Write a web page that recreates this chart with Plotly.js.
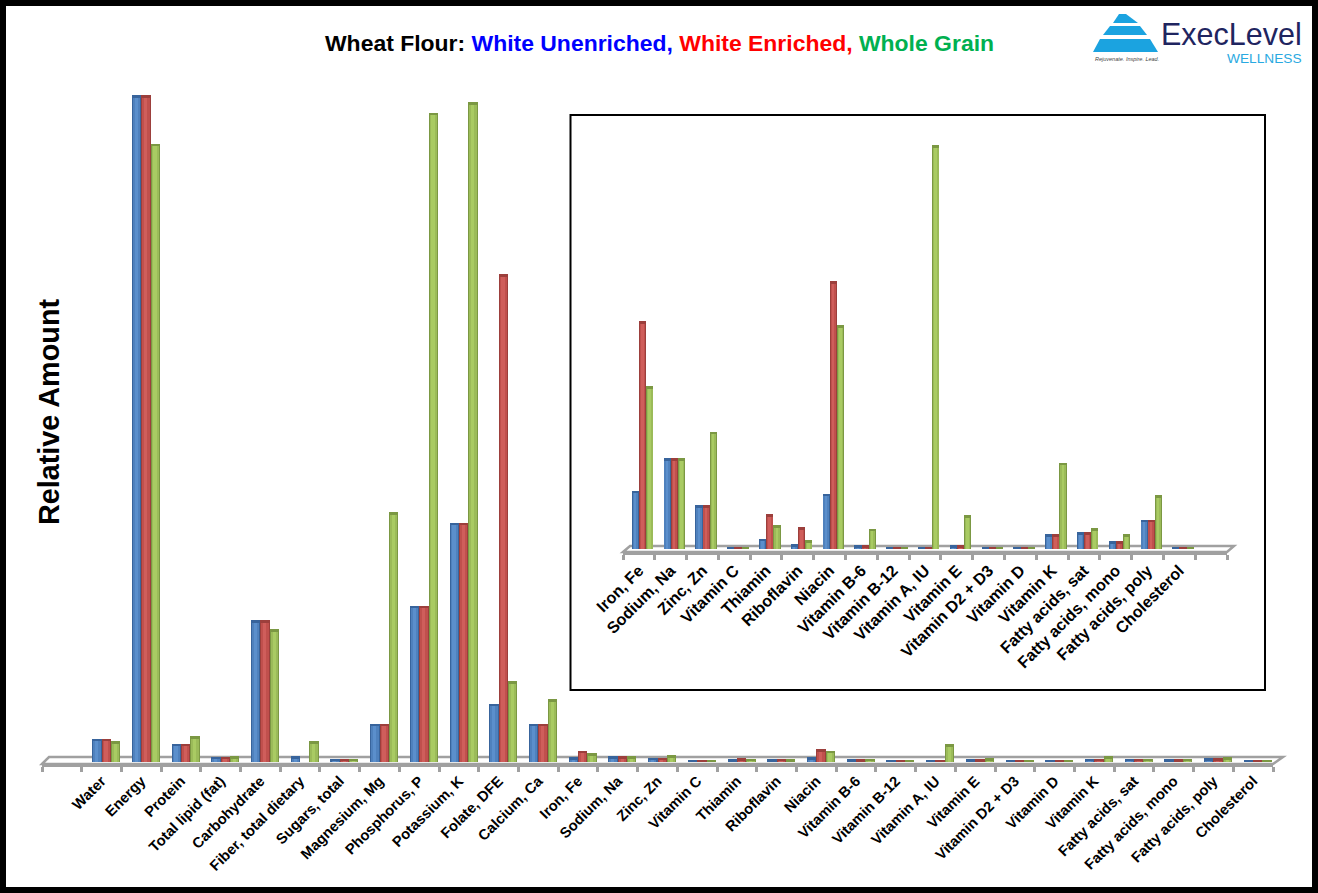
<!DOCTYPE html>
<html>
<head>
<meta charset="utf-8">
<script src="https://cdn.plot.ly/plotly-3.0.1.min.js"></script>
<style>html,body{margin:0;padding:0;background:#fff;overflow:hidden}</style>
</head>
<body>
<div id="chart" style="width:1318px;height:893px"></div>
<script>
// Relative amounts
const categories = ["Water","Energy","Protein","Total lipid (fat)","Carbohydrate","Fiber, total dietary","Sugars, total","Magnesium, Mg","Phosphorus, P","Potassium, K","Folate, DFE","Calcium, Ca","Iron, Fe","Sodium, Na","Zinc, Zn","Vitamin C","Thiamin","Riboflavin","Niacin","Vitamin B-6","Vitamin B-12","Vitamin A, IU","Vitamin E","Vitamin D2 + D3","Vitamin D","Vitamin K","Fatty acids, sat","Fatty acids, mono","Fatty acids, poly","Cholesterol"];
const whiteUnenriched = [11.2,362.7,8.5,1.4,76.1,1.9,0.3,19.4,83.8,129.1,30.3,19.4,1.2,1.89,0.9,0,0.19,0.08,1.14,0.06,0,0,0.06,0,0,0.29,0.33,0.14,0.59,0];
const whiteEnriched   = [11.2,362.7,8.5,1.4,76.1,null,0.3,19.4,83.8,129.1,265,19.4,4.76,1.89,0.9,0,0.71,0.44,5.6,0.06,0,0,0.06,0,0,0.29,0.33,0.14,0.59,0];
const wholeGrain      = [10.1,336,12.8,1.9,71.2,10.1,0.3,135.1,352.9,358.9,42.8,33,3.4,1.89,2.44,0,0.48,0.16,4.68,0.4,0,8.46,0.69,0,0,1.79,0.42,0.29,1.11,0];

const seriesNames = ["White Unenriched","White Enriched","Whole Grain"];
const seriesValues = [whiteUnenriched, whiteEnriched, wholeGrain];
const edgeColors = ["#38649C","#9C3F3C","#7B9843"];
const baseColors = ["#4F81BD","#C0504D","#9BBB59"];
const lightColors = ["#5B8FCC","#CF5E5B","#A9CB63"];

const FONT = "Liberation Sans, Arial, sans-serif";
const W = 1318, H = 893;
const px = v => v / W, py = v => 1 - v / H;

function panel(cats, vals, xa, ya, capH, lift, step, barW, firstOff) {
  const out = [];
  vals.forEach((v, s) => {
    const off = firstOff + s * step;
    const common = {type:"bar", x:cats, xaxis:xa, yaxis:ya, name:seriesNames[s], showlegend:false, hoverinfo:"x+y"};
    out.push({...common, y:v, width:barW, offset:off, marker:{color:edgeColors[s], line:{width:0}}});
    out.push({...common, y:v, width:barW*0.78, offset:off+barW*0.11, marker:{color:baseColors[s], line:{width:0}}});
    out.push({...common, y:v, width:barW*0.34, offset:off+barW*0.3, marker:{color:lightColors[s], line:{width:0}}});
    // cylinder top cap: also shows where the value is near zero
    out.push({...common, y:v.map(a=>a===null?null:capH), base:v.map(a=>a===null?null:Math.max(a+lift-capH,0)), width:barW, offset:off, marker:{color:edgeColors[s], line:{width:0}}, hoverinfo:"skip"});
  });
  return out;
}

const insetStart = categories.indexOf("Iron, Fe");
const insetCats = categories.slice(insetStart);
const insetVals = seriesValues.map(v => v.slice(insetStart));

const mainPx = 1.832, insetPx = 47.6;
const data = [
  ...panel(categories, seriesValues, "x", "y", 2.5/mainPx, 2.5/mainPx, 0.235, 0.235, -0.235),
  ...panel(insetCats, insetVals, "x2", "y2", 2.5/insetPx, 1/insetPx, 0.225, 0.225, -0.22)
];

const grey = "#A0A0A0";
const tick = (size) => ({size:size, family:FONT, color:"#000", weight:"bold"});
const logoBlue = "#1BA3E0";

const layout = {
  width:W, height:H, autosize:false,
  margin:{l:0,r:0,t:0,b:0,pad:0},
  paper_bgcolor:"#fff", plot_bgcolor:"rgba(0,0,0,0)",
  barmode:"overlay", showlegend:false, bargap:0,
  title:{
    text:'Wheat Flour: <span style="color:#0000FF">White Unenriched,</span> <span style="color:#FF0000">White Enriched,</span> <span style="color:#00B050">Whole Grain</span>',
    font:{family:FONT,size:22.95,color:"#000",weight:"bold"},
    x:659.5/W, xanchor:"center", y:py(43), yanchor:"middle"
  },
  xaxis:{
    domain:[px(42),px(1273)], anchor:"y", type:"category",
    categoryorder:"array", categoryarray:[" ",...categories],
    range:[-0.5,30.5], tickson:"boundaries",
    showline:true, linecolor:grey, linewidth:2.5,
    ticks:"outside", ticklen:5, tickwidth:2.5, tickcolor:grey,
    tickangle:-45, tickfont:tick(14.7), showgrid:false, zeroline:false, automargin:false
  },
  yaxis:{
    domain:[py(764),py(60)], anchor:"free", position:px(72),
    range:[-2/mainPx,702/mainPx], showgrid:false, zeroline:false, showline:false,
    ticks:"", showticklabels:false, automargin:false,
    title:{text:"Relative Amount", font:{family:FONT,size:28.8,color:"#000",weight:"bold"}, standoff:2}
  },
  xaxis2:{
    domain:[px(623),px(1227)], anchor:"y2", type:"category",
    categoryorder:"array", categoryarray:[...insetCats," "],
    range:[-0.5,18.5], tickson:"boundaries",
    showline:true, linecolor:grey, linewidth:2.5,
    ticks:"outside", ticklen:5, tickwidth:2.5, tickcolor:grey,
    tickangle:-45, tickfont:tick(16.2), showgrid:false, zeroline:false, automargin:false
  },
  yaxis2:{
    domain:[py(552),py(120)], anchor:"x2",
    range:[-3/insetPx,429/insetPx], visible:false, showgrid:false, zeroline:false
  },
  shapes:[
    // page frame
    {type:"rect",xref:"paper",yref:"paper",x0:px(3),x1:px(1315),y0:py(3),y1:py(890),line:{color:"#000",width:6},layer:"above"},
    // inset box
    {type:"rect",xref:"paper",yref:"paper",x0:px(570.5),x1:px(1265),y0:py(115),y1:py(690),line:{color:"#000",width:2},fillcolor:"#fff",layer:"below"},
    // chart floors
    {type:"path",xref:"paper",yref:"paper",layer:"below",line:{color:grey,width:2.5},
      path:`M${px(42)},${py(764)} L${px(49)},${py(757)} L${px(1283)},${py(757)} L${px(1273)},${py(764)} Z`},
    {type:"path",xref:"paper",yref:"paper",layer:"below",line:{color:grey,width:2.5},
      path:`M${px(623)},${py(552)} L${px(630)},${py(546)} L${px(1234)},${py(546)} L${px(1227)},${py(552)} Z`},
    // logo
    {type:"path",xref:"paper",yref:"paper",fillcolor:logoBlue,line:{width:0},
      path:`M${px(1119)},${py(14)} L${px(1126)},${py(14)} L${px(1138)},${py(23)} L${px(1113)},${py(23)} Z`},
    {type:"path",xref:"paper",yref:"paper",fillcolor:logoBlue,line:{width:0},
      path:`M${px(1110)},${py(26)} L${px(1140)},${py(26)} L${px(1147)},${py(35)} L${px(1103)},${py(35)} Z`},
    {type:"path",xref:"paper",yref:"paper",fillcolor:logoBlue,line:{width:0},
      path:`M${px(1100)},${py(39)} L${px(1150)},${py(39)} L${px(1158)},${py(52)} L${px(1093)},${py(52)} Z`}
  ],
  annotations:[
    {text:"ExecLevel",xref:"paper",yref:"paper",x:px(1304),y:py(33.5),xanchor:"right",yanchor:"middle",showarrow:false,
      font:{family:FONT,size:30.5,color:"#1F2560"}},
    {text:"WELLNESS",xref:"paper",yref:"paper",x:px(1304),y:py(58),xanchor:"right",yanchor:"middle",showarrow:false,
      font:{family:FONT,size:13.7,color:"#29A9E1"}},
    {text:"<i>Rejuvenate. Inspire. Lead.</i>",xref:"paper",yref:"paper",x:px(1093),y:py(58.5),xanchor:"left",yanchor:"middle",showarrow:false,
      font:{family:FONT,size:5.5,color:"#444"}}
  ]
};

Plotly.newPlot("chart", data, layout, {displayModeBar:false, responsive:false});
</script>
</body>
</html>
